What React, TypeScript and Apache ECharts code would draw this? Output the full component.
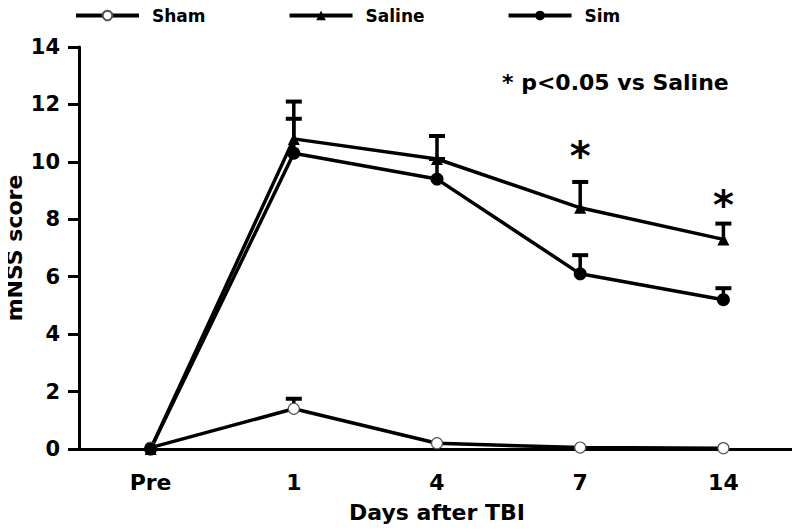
import React, { useEffect, useRef } from "react";
import * as echarts from "echarts";

const categories = ["Pre", "1", "4", "7", "14"];
const shamValues = [0.05, 1.4, 0.2, 0.05, 0.03];
const shamErr = [0, 0.35, 0, 0, 0];
const salineValues = [0, 10.8, 10.1, 8.4, 7.3];
const salineErr = [0, 1.3, 0.8, 0.9, 0.55];
const simValues = [0, 10.3, 9.4, 6.1, 5.2];
const simErr = [0, 1.2, 0.7, 0.65, 0.4];
const asteriskPos: (number | null)[] = [null, null, null, 10.2, 8.5];
const yTicks = { min: 0, max: 14, interval: 2 };

const FONT = "DejaVu Sans";

function errorSeries(name: string, values: number[], errs: number[]) {
  const data = values.map((v, i) => [i, v, v + errs[i]]);
  return {
    type: "custom",
    name: name + "-err",
    z: 1,
    silent: true,
    data,
    renderItem: (params: any, api: any) => {
      const x = api.value(0);
      const lo = api.coord([x, api.value(1)]);
      const hi = api.coord([x, api.value(2)]);
      if (api.value(2) - api.value(1) <= 0) return { type: "group", children: [] };
      return {
        type: "group",
        children: [
          { type: "line", shape: { x1: lo[0], y1: lo[1], x2: hi[0], y2: hi[1] }, style: { stroke: "#000", lineWidth: 3.5 } },
          { type: "line", shape: { x1: hi[0] - 8, y1: hi[1], x2: hi[0] + 8, y2: hi[1] }, style: { stroke: "#000", lineWidth: 4 } },
        ],
      };
    },
  };
}

export default function App() {
  const ref = useRef<HTMLDivElement>(null);
  useEffect(() => {
    const chart = echarts.init(ref.current!, null, { renderer: "svg" });
    chart.setOption({
      animation: false,
      backgroundColor: "#fff",
      textStyle: { fontFamily: FONT },
      legend: {
        top: 2,
        left: 69,
        itemWidth: 63,
        itemHeight: 12,
        itemGap: 82,
        data: ["Sham", "Saline", "Sim"],
        lineStyle: { width: 4 },
        textStyle: { fontFamily: FONT, fontWeight: "bold", fontSize: 17, color: "#000", padding: [0, 0, 0, 8] },
      },
      grid: { left: 79, right: 5, top: 47, bottom: 83, containLabel: false, outerBoundsMode: "none" },
      xAxis: {
        type: "category",
        data: categories,
        boundaryGap: true,
        name: "Days after TBI",
        nameLocation: "middle",
        nameGap: 52,
        nameMoveOverlap: false,
        nameTextStyle: { fontFamily: FONT, fontWeight: "bold", fontSize: 22, color: "#000" },
        axisLine: { lineStyle: { color: "#000", width: 3 } },
        axisTick: { alignWithLabel: true, length: 11, lineStyle: { color: "#000", width: 3 } },
        axisLabel: { fontFamily: FONT, fontWeight: "bold", fontSize: 22, color: "#000", margin: 22 },
        splitLine: { show: false },
      },
      yAxis: {
        type: "value",
        min: yTicks.min,
        max: yTicks.max,
        interval: yTicks.interval,
        name: "mNSS score",
        nameLocation: "middle",
        nameGap: 54,
        nameMoveOverlap: false,
        nameTextStyle: { fontFamily: FONT, fontWeight: "bold", fontSize: 22, color: "#000" },
        axisLine: { show: true, lineStyle: { color: "#000", width: 3 } },
        axisTick: { show: true, length: 11, lineStyle: { color: "#000", width: 3 } },
        axisLabel: { fontFamily: FONT, fontWeight: "bold", fontSize: 21, color: "#000", margin: 19 },
        splitLine: { show: false },
      },
      graphic: [
        {
          type: "text",
          left: 502,
          top: 71,
          style: { text: "* p<0.05 vs Saline", fontFamily: FONT, fontWeight: "bold", fontSize: 22, fill: "#000" },
        },
      ],
      series: [
        errorSeries("Sham", shamValues, shamErr),
        errorSeries("Saline", salineValues, salineErr),
        errorSeries("Sim", simValues, simErr),
        {
          name: "Sham",
          type: "line",
          data: shamValues,
          z: 3,
          symbol: "circle",
          symbolSize: 11,
          lineStyle: { color: "#000", width: 3.5 },
          itemStyle: { color: "#fff", borderColor: "#555", borderWidth: 1.2 },
        },
        {
          name: "Saline",
          type: "line",
          data: salineValues,
          z: 3,
          symbol: "triangle",
          symbolSize: 12,
          lineStyle: { color: "#000", width: 3.5 },
          itemStyle: { color: "#000" },
        },
        {
          name: "Sim",
          type: "line",
          data: simValues,
          z: 3,
          symbol: "circle",
          symbolSize: 13,
          lineStyle: { color: "#000", width: 3.5 },
          itemStyle: { color: "#000" },
        },
        {
          type: "custom",
          name: "asterisk",
          silent: true,
          data: asteriskPos.map((v, i) => [i, v == null ? NaN : v]),
          renderItem: (params: any, api: any) => {
            const v = api.value(1);
            if (isNaN(v)) return { type: "group", children: [] };
            const p = api.coord([api.value(0), v]);
            return {
              type: "text",
              x: p[0],
              y: p[1],
              style: { text: "*", fontFamily: FONT, fontWeight: "bold", fontSize: 40, fill: "#000", align: "center", verticalAlign: "middle" },
            };
          },
        },
      ],
    });
    return () => chart.dispose();
  }, []);
  return <div ref={ref} style={{ width: 800, height: 532, margin: -8 }} />;
}
